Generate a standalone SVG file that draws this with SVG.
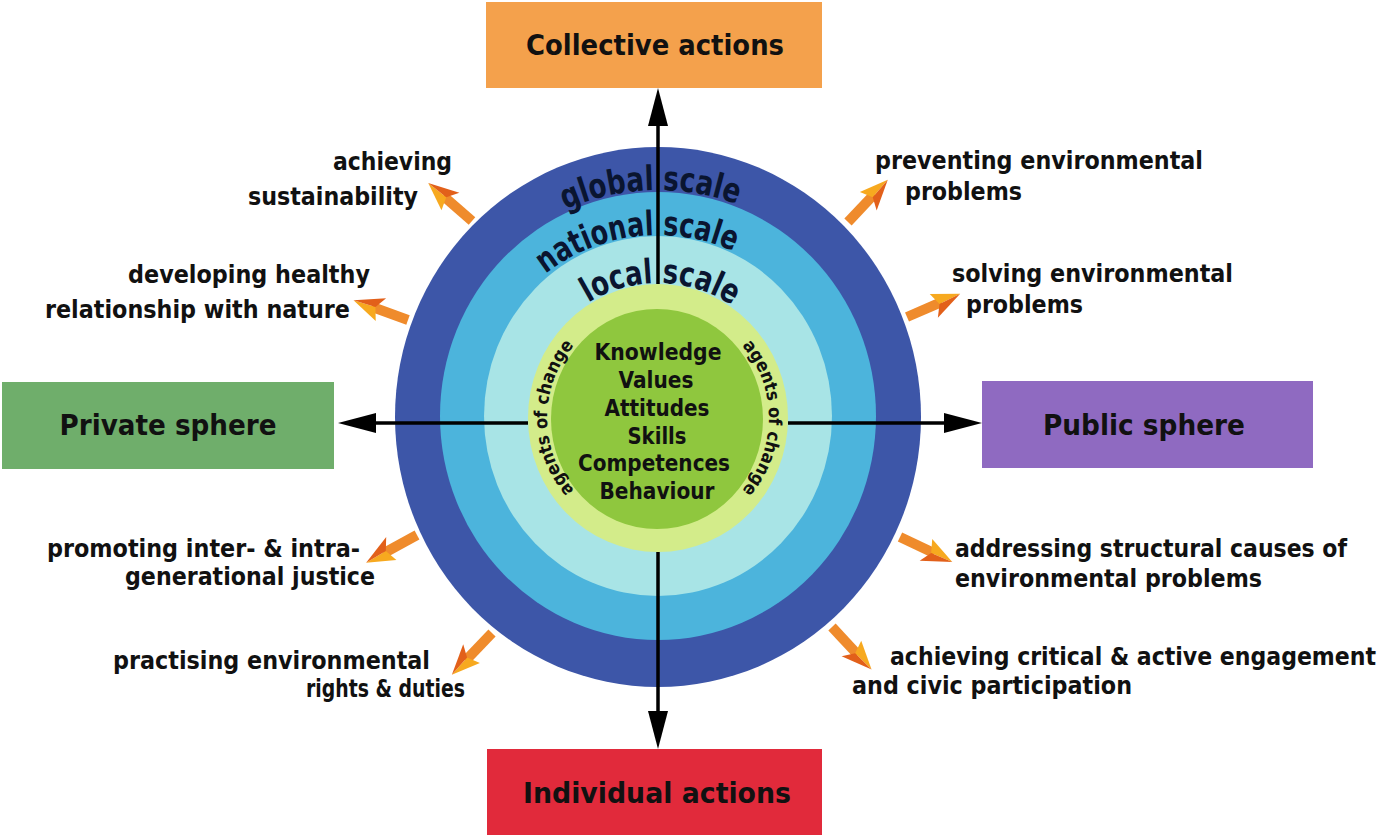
<svg xmlns="http://www.w3.org/2000/svg" width="1382" height="838" viewBox="0 0 1382 838">
<style>
.t{font-family:'DejaVu Sans',Verdana,'Liberation Sans',sans-serif;font-weight:bold;fill:#111;}
.box{font-size:28px;text-anchor:middle;}
.lbl{font-size:22px;}
.core{font-size:23px;text-anchor:middle;}
.ring{font-size:34px;fill:#0a1530;text-anchor:middle;}
.agent{font-size:18px;text-anchor:middle;}
.ax{stroke:#000;stroke-width:3.5;fill:none;marker-end:url(#ah);}
</style>
<defs>
<marker id="ah" markerUnits="userSpaceOnUse" markerWidth="38" markerHeight="20" refX="30" refY="10" orient="auto">
<path d="M0,0 L38,10 L0,20 Z" fill="#000"/>
</marker>
<g id="oa">
<rect x="0" y="-5" width="38" height="10" fill="#ef8b2c"/>
<polygon points="58,0 35,1 30,-12" fill="#f7a91f"/>
<polygon points="58,0 28,13 35,1" fill="#e2601a"/>
</g>
<path id="pGlobal" d="M431,417 A227,227 0 0 1 885,417"/>
<path id="pNational" d="M476,417 A182,182 0 0 1 840,417"/>
<path id="pLocal" d="M524,417 A134,134 0 0 1 792,417"/>
<path id="pAgL" d="M658,529 A111,111 0 0 1 658,307"/>
<path id="pAgR" d="M658,307 A111,111 0 0 1 658,529"/>
</defs>
<rect width="1382" height="838" fill="#fff"/>

<g id="rings">
<ellipse cx="658" cy="417" rx="263" ry="270" fill="#3d56a8"/>
<ellipse cx="658" cy="416" rx="218" ry="224" fill="#4cb4dc"/>
<ellipse cx="658" cy="416" rx="174" ry="180" fill="#a8e4e6"/>
<ellipse cx="658" cy="418" rx="130" ry="134" fill="#d3ec8a"/>
<ellipse cx="657" cy="419" rx="106" ry="110" fill="#8fc73e"/>
</g>

<g id="ring-labels">
<text class="t ring"><textPath href="#pGlobal" startOffset="349" textLength="176" lengthAdjust="spacingAndGlyphs">global scale</textPath></text>
<text class="t ring"><textPath href="#pNational" startOffset="264" textLength="199" lengthAdjust="spacingAndGlyphs">national scale</textPath></text>
<text class="t ring"><textPath href="#pLocal" startOffset="213" textLength="152" lengthAdjust="spacingAndGlyphs">local scale</textPath></text>
</g>

<g id="agents">
<text class="t agent"><textPath href="#pAgL" startOffset="50%" textLength="158" lengthAdjust="spacingAndGlyphs">agents of change</textPath></text>
<text class="t agent"><textPath href="#pAgR" startOffset="50%" textLength="158" lengthAdjust="spacingAndGlyphs">agents of change</textPath></text>
</g>

<g id="core">
<text class="t core" x="658" y="360" textLength="127" lengthAdjust="spacingAndGlyphs">Knowledge</text>
<text class="t core" x="656" y="388" textLength="75" lengthAdjust="spacingAndGlyphs">Values</text>
<text class="t core" x="657" y="416" textLength="105" lengthAdjust="spacingAndGlyphs">Attitudes</text>
<text class="t core" x="657" y="444" textLength="59" lengthAdjust="spacingAndGlyphs">Skills</text>
<text class="t core" x="654" y="471" textLength="152" lengthAdjust="spacingAndGlyphs">Competences</text>
<text class="t core" x="657" y="499" textLength="115" lengthAdjust="spacingAndGlyphs">Behaviour</text>
</g>

<g id="connectors">
<line class="ax" x1="658" y1="284" x2="658" y2="96"/>
<line class="ax" x1="658" y1="552" x2="658" y2="741"/>
<line class="ax" x1="528" y1="423" x2="346" y2="423"/>
<line class="ax" x1="788" y1="423" x2="974" y2="423"/>
</g>

<g id="collective">
<rect x="486" y="2" width="336" height="86" fill="#f4a14c"/>
<text class="t box" x="655" y="55" textLength="258" lengthAdjust="spacingAndGlyphs">Collective actions</text>
</g>
<g id="individual">
<rect x="487" y="749" width="335" height="86" fill="#e12a3b"/>
<text class="t box" x="657" y="803" textLength="268" lengthAdjust="spacingAndGlyphs">Individual actions</text>
</g>
<g id="private">
<rect x="2" y="382" width="332" height="87" fill="#6fae6b"/>
<text class="t box" x="168" y="435" textLength="217" lengthAdjust="spacingAndGlyphs">Private sphere</text>
</g>
<g id="public">
<rect x="982" y="381" width="331" height="87" fill="#8f6ac1"/>
<text class="t box" x="1144" y="435" textLength="202" lengthAdjust="spacingAndGlyphs">Public sphere</text>
</g>

<g id="outcome-arrows">
<use href="#oa" transform="translate(472,221) rotate(-139)"/>
<use href="#oa" transform="translate(408,320) rotate(-160)"/>
<use href="#oa" transform="translate(848,222) rotate(-46.7)"/>
<use href="#oa" transform="translate(907,317) rotate(-23.5)"/>
<use href="#oa" transform="translate(417,535) rotate(151.3)"/>
<use href="#oa" transform="translate(492,633) rotate(133.8)"/>
<use href="#oa" transform="translate(900,537) rotate(25.5)"/>
<use href="#oa" transform="translate(832,627) rotate(47)"/>
</g>

<g id="outcomes-left">
<text class="t lbl" transform="translate(333,170) scale(1,1.16)" textLength="119" lengthAdjust="spacingAndGlyphs">achieving</text>
<text class="t lbl" transform="translate(248,205) scale(1,1.16)" textLength="170" lengthAdjust="spacingAndGlyphs">sustainability</text>
<text class="t lbl" transform="translate(128,283) scale(1,1.16)" textLength="242" lengthAdjust="spacingAndGlyphs">developing healthy</text>
<text class="t lbl" transform="translate(45,318) scale(1,1.16)" textLength="305" lengthAdjust="spacingAndGlyphs">relationship with nature</text>
<text class="t lbl" transform="translate(47,557) scale(1,1.16)" textLength="313" lengthAdjust="spacingAndGlyphs">promoting inter- &amp; intra-</text>
<text class="t lbl" transform="translate(125,585) scale(1,1.16)" textLength="250" lengthAdjust="spacingAndGlyphs">generational justice</text>
<text class="t lbl" transform="translate(113,669) scale(1,1.16)" textLength="317" lengthAdjust="spacingAndGlyphs">practising environmental</text>
<text class="t lbl" transform="translate(306,697) scale(1,1.16)" textLength="159" lengthAdjust="spacingAndGlyphs">rights &amp; duties</text>
</g>
<g id="outcomes-right">
<text class="t lbl" transform="translate(875,169) scale(1,1.16)" textLength="328" lengthAdjust="spacingAndGlyphs">preventing environmental</text>
<text class="t lbl" transform="translate(905,200) scale(1,1.16)" textLength="117" lengthAdjust="spacingAndGlyphs">problems</text>
<text class="t lbl" transform="translate(952,282) scale(1,1.16)" textLength="281" lengthAdjust="spacingAndGlyphs">solving environmental</text>
<text class="t lbl" transform="translate(966,313) scale(1,1.16)" textLength="117" lengthAdjust="spacingAndGlyphs">problems</text>
<text class="t lbl" transform="translate(955,557) scale(1,1.16)" textLength="392" lengthAdjust="spacingAndGlyphs">addressing structural causes of</text>
<text class="t lbl" transform="translate(955,587) scale(1,1.16)" textLength="307" lengthAdjust="spacingAndGlyphs">environmental problems</text>
<text class="t lbl" transform="translate(890,665) scale(1,1.16)" textLength="486" lengthAdjust="spacingAndGlyphs">achieving critical &amp; active engagement</text>
<text class="t lbl" transform="translate(852,694) scale(1,1.16)" textLength="280" lengthAdjust="spacingAndGlyphs">and civic participation</text>
</g>
</svg>
